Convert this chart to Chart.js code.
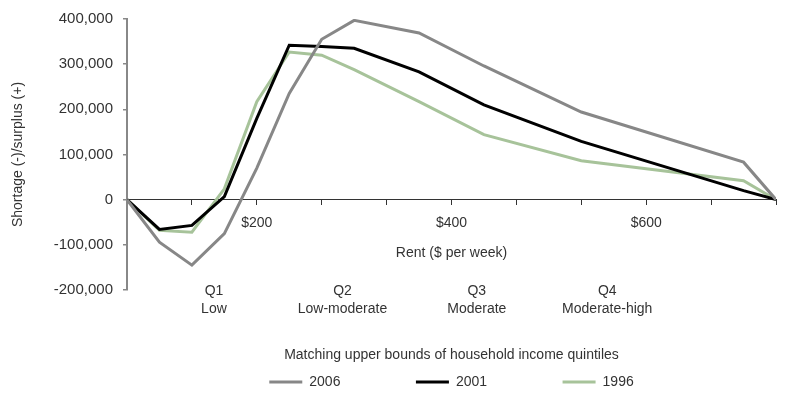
<!DOCTYPE html>
<html>
<head>
<meta charset="utf-8">
<script src="https://cdn.jsdelivr.net/npm/chart.js@4"></script>
<style>
  html, body { margin: 0; padding: 0; background: #fff; }
</style>
</head>
<body>
<canvas id="rent-chart" width="789" height="397"></canvas>
<script>
// rent points ($ per week) and shortage/surplus for each year
const rent = [66.67, 100, 133.33, 166.67, 200, 233.33, 266.67, 300, 366.67, 433.33, 533.33, 700, 733.33];
const y2006 = [0, -94000, -145000, -75000, 70000, 235000, 355000, 397000, 369000, 296000, 194000, 83000, 0];
const y2001 = [0, -66000, -57000, 7000, 180000, 342000, 339000, 335000, 283000, 210000, 129000, 20000, 0];
const y1996 = [0, -68000, -72000, 24000, 217000, 327000, 320000, 288000, 217000, 144000, 86000, 42000, 0];

const rentTicks = [66.67, 133.33, 200, 266.67, 333.33, 400, 466.67, 533.33, 600, 666.67, 733.33];
const rentTickLabels = ['', '', '$200', '', '', '$400', '', '', '$600', '', ''];

const quintileRent = [156, 288, 426, 560];
const quintileCode = ['Q1', 'Q2', 'Q3', 'Q4'];
const quintileName = ['Low', 'Low-moderate', 'Moderate', 'Moderate-high'];

const FONT = '"Liberation Sans", Arial, sans-serif';
Chart.defaults.font.family = FONT;
Chart.defaults.font.size = 14;
Chart.defaults.color = '#333';

function pts(ys) {
  return rent.map((r, i) => ({x: r, y: ys[i]}));
}

// Q1..Q4 captions under the plot
const quintileLabels = {
  id: 'quintileLabels',
  afterDraw(chart) {
    const {ctx, chartArea} = chart;
    const xs = chart.scales.x;
    ctx.save();
    ctx.font = '14px ' + FONT;
    ctx.fillStyle = '#333';
    ctx.textAlign = 'center';
    ctx.textBaseline = 'middle';
    quintileRent.forEach((r, i) => {
      const px = xs.getPixelForValue(r);
      ctx.fillText(quintileCode[i], px, chartArea.bottom + 1);
      ctx.fillText(quintileName[i], px, chartArea.bottom + 19);
    });
    ctx.restore();
  }
};

const ctx = document.getElementById('rent-chart').getContext('2d');
const chart = new Chart(ctx, {
  type: 'line',
  data: {
    datasets: [
      {label: '2006', data: pts(y2006), borderColor: '#878787', backgroundColor: '#878787', borderWidth: 3},
      {label: '2001', data: pts(y2001), borderColor: '#000000', backgroundColor: '#000000', borderWidth: 3},
      {label: '1996', data: pts(y1996), borderColor: '#a7c39a', backgroundColor: '#a7c39a', borderWidth: 3}
    ]
  },
  options: {
    responsive: false,
    animation: false,
    elements: {
      line: {borderWidth: 3, tension: 0},
      point: {radius: 0}
    },
    layout: {padding: {left: 0, right: 13, top: 17, bottom: 0}},
    scales: {
      x: {
        type: 'linear',
        position: {y: 0},
        min: 66.67,
        max: 733.33,
        afterBuildTicks: s => { s.ticks = rentTicks.map(v => ({value: v})); },
        ticks: {
          autoSkip: false,
          maxRotation: 0,
          padding: 10,
          callback: (v, i) => rentTickLabels[i]
        },
        grid: {drawOnChartArea: false, tickLength: 5, color: '#333', lineWidth: 1},
        border: {color: '#333', width: 1},
        title: {display: true, text: 'Rent ($ per week)', padding: {top: 3, bottom: 0}}
      },
      y: {
        min: -200000,
        max: 400000,
        ticks: {
          stepSize: 100000,
          padding: 10,
          font: {size: 15},
          callback: v => v.toLocaleString('en-US')
        },
        grid: {drawOnChartArea: false, tickLength: 4, color: '#888', lineWidth: 1.5},
        border: {color: '#888', width: 2},
        title: {display: true, text: 'Shortage (-)/surplus (+)', padding: {top: 10, bottom: 0}},
        afterFit: s => { s.width = 127; }
      }
    },
    plugins: {
      legend: {
        position: 'bottom',
        fullSize: false,
        maxHeight: 107,
        labels: {
          usePointStyle: true,
          pointStyle: 'line',
          pointStyleWidth: 33,
          padding: 75.5,
          color: '#333'
        },
        title: {
          display: true,
          text: 'Matching upper bounds of household income quintiles',
          color: '#333',
          padding: {top: 58, bottom: -65.3}
        }
      },
      tooltip: {enabled: false}
    }
  },
  plugins: [quintileLabels]
});
</script>
</body>
</html>
